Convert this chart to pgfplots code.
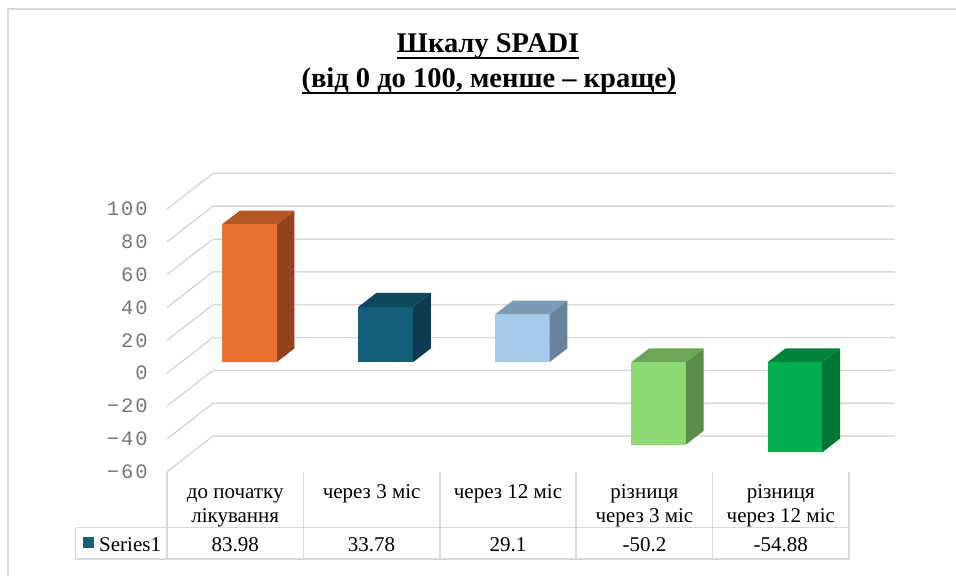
\documentclass[border=0pt]{standalone}
\usepackage{fontspec}
\setmainfont{Liberation Serif}
\newfontfamily\tickfont[LetterSpace=10]{Liberation Mono}
\usepackage{pgfplots}
\pgfplotsset{compat=1.18}

\definecolor{gridc}{RGB}{217,217,217}
\definecolor{tickc}{RGB}{118,118,118}
\definecolor{oF}{RGB}{233,113,50}\definecolor{oT}{RGB}{181,86,37}\definecolor{oS}{RGB}{143,68,30}
\definecolor{bF}{RGB}{21,94,122}\definecolor{bT}{RGB}{16,71,94}\definecolor{bS}{RGB}{13,59,79}
\definecolor{lF}{RGB}{166,202,236}\definecolor{lT}{RGB}{123,154,184}\definecolor{lS}{RGB}{106,131,156}
\definecolor{gF}{RGB}{142,217,115}\definecolor{gT}{RGB}{106,166,86}\definecolor{gS}{RGB}{91,141,73}
\definecolor{hF}{RGB}{0,176,80}\definecolor{hT}{RGB}{0,132,60}\definecolor{hS}{RGB}{0,117,52}

\newsavebox\ulbox
\newcommand\ul[1]{\sbox\ulbox{#1}\rlap{\rule[-6.5pt]{\wd\ulbox}{2pt}}\usebox\ulbox}

% side and top faces of a 3D bar: #1 front-face centre x, #2 value, #3 side colour, #4 top colour
\newcommand\sideTop[4]{%
  \pgfmathsetmacro\xL{#1-0.2}%
  \pgfmathsetmacro\xR{#1+0.2}%
  \pgfmathsetmacro\xLb{\xL+0.1314}%
  \pgfmathsetmacro\xRb{\xR+0.1314}%
  \pgfmathsetmacro\vb{#2+8.46}%
  \pgfmathsetmacro\tz{max(#2,0)}%
  \pgfmathsetmacro\tzb{\tz+8.46}%
  \edef\doit{\noexpand\addplot[fill=#3,draw=none] coordinates {(\xR,0) (\xRb,8.46) (\xRb,\vb) (\xR,#2)};
    \noexpand\addplot[fill=#4,draw=none] coordinates {(\xL,\tz) (\xR,\tz) (\xRb,\tzb) (\xLb,\tzb)};}%
  \doit}

\begin{document}
\begin{tikzpicture}[x=1pt,y=1pt]
\path[use as bounding box] (0,0) rectangle (956,576);
% frame
\draw[gridc,line width=1.3pt] (8,0) -- (8,567) -- (956,567);
% title
\node[anchor=base,inner sep=0pt] at (488,523) {\fontsize{28.5}{34}\selectfont\bfseries\ul{Шкалу SPADI}};
\node[anchor=base,inner sep=0pt] at (489,488) {\fontsize{28.5}{34}\selectfont\bfseries\ul{(від 0 до 100, менше – краще)}};

\begin{axis}[
  at={(167pt,104.3pt)}, anchor=south west,
  x=136.4pt, y=1.642pt,
  xmin=-0.5, xmax=4.837, ymin=-66.62, ymax=115.08,
  axis line style={draw=none},
  xtick=\empty,
  ytick={-66.62,-46.62,-26.62,-6.62,13.38,33.38,53.38,73.38,93.38},
  yticklabels={−60,−40,−20,0,20,40,60,80,100},
  major tick length=0pt,
  yticklabel style={font=\tickfont\fontsize{20.5}{21}\selectfont, text=tickc, anchor=east, inner sep=0pt, xshift=-19pt},
  clip=false,
]
% wall grid lines (left wall diagonal + back wall)
\addplot[gridc,line width=1.5pt] coordinates {(-0.5,-66.62) (-0.163,-44.92) (4.837,-44.92)};
\addplot[gridc,line width=1.5pt] coordinates {(-0.5,-46.62) (-0.163,-24.92) (4.837,-24.92)};
\addplot[gridc,line width=1.5pt] coordinates {(-0.5,-26.62) (-0.163,-4.92) (4.837,-4.92)};
\addplot[gridc,line width=1.5pt] coordinates {(-0.5,-6.62) (-0.163,15.08) (4.837,15.08)};
\addplot[gridc,line width=1.5pt] coordinates {(-0.5,13.38) (-0.163,35.08) (4.837,35.08)};
\addplot[gridc,line width=1.5pt] coordinates {(-0.5,33.38) (-0.163,55.08) (4.837,55.08)};
\addplot[gridc,line width=1.5pt] coordinates {(-0.5,53.38) (-0.163,75.08) (4.837,75.08)};
\addplot[gridc,line width=1.5pt] coordinates {(-0.5,73.38) (-0.163,95.08) (4.837,95.08)};
\addplot[gridc,line width=1.5pt] coordinates {(-0.5,93.38) (-0.163,115.08) (4.837,115.08)};
% bars: side + top faces, then front faces (values 83.98, 33.78, 29.1, -50.2, -54.88)
\sideTop{0.103}{83.98}{oS}{oT}
\addplot[ybar,bar width=0.4,fill=oF,draw=none] coordinates {(0.103,83.98)};
\sideTop{1.103}{33.78}{bS}{bT}
\addplot[ybar,bar width=0.4,fill=bF,draw=none] coordinates {(1.103,33.78)};
\sideTop{2.103}{29.1}{lS}{lT}
\addplot[ybar,bar width=0.4,fill=lF,draw=none] coordinates {(2.103,29.1)};
\sideTop{3.103}{-50.2}{gS}{gT}
\addplot[ybar,bar width=0.4,fill=gF,draw=none] coordinates {(3.103,-50.2)};
\sideTop{4.103}{-54.88}{hS}{hT}
\addplot[ybar,bar width=0.4,fill=hF,draw=none] coordinates {(4.103,-54.88)};
\end{axis}

% data table
\begin{scope}[gridc,line width=1.5pt]
\foreach \xx in {167,303.4,439.8,576.2,712.6,849} \draw (\xx,104.3) -- (\xx,17);
\draw (75.7,48.3) -- (849,48.3);
\draw (75.7,17) -- (849,17);
\draw (75.7,48.3) -- (75.7,17);
\end{scope}
\begin{scope}[every node/.style={anchor=base,inner sep=0pt,font=\fontsize{21}{24}\selectfont}]
\node at (235.2,77.5) {до початку};
\node at (235.2,54) {лікування};
\node at (371.6,77.5) {через 3 міс};
\node at (508,77.5) {через 12 міс};
\node at (644.4,77.5) {різниця};
\node at (644.4,54) {через 3 міс};
\node at (780.8,77.5) {різниця};
\node at (780.8,54) {через 12 міс};
\node[anchor=base west] at (99,25) {Series1};
\node at (235.2,25) {83.98};
\node at (371.6,25) {33.78};
\node at (508,25) {29.1};
\node at (644.4,25) {-50.2};
\node at (780.8,25) {-54.88};
\end{scope}
\fill[bF] (83.3,27.7) rectangle (94.3,39.3);
\end{tikzpicture}
\end{document}
